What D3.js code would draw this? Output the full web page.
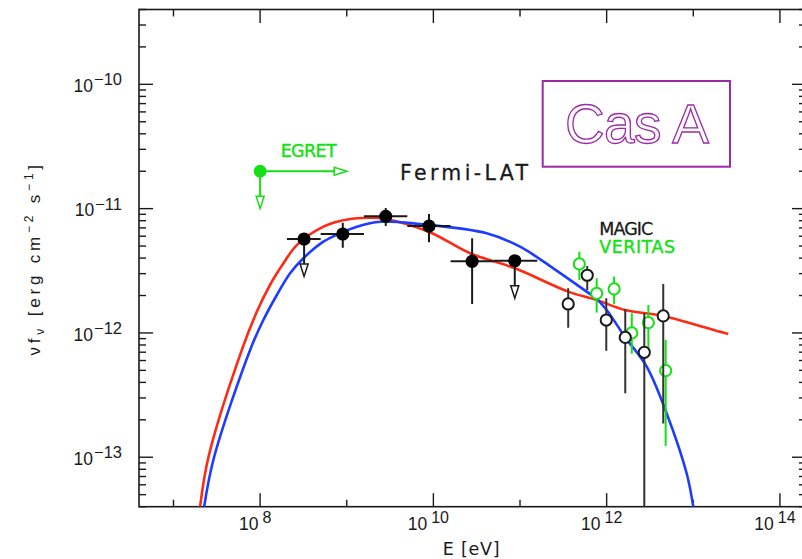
<!DOCTYPE html>
<html><head><meta charset="utf-8">
<script src="https://cdn.jsdelivr.net/npm/d3@7"></script>
<style>body{margin:0;background:#fff} svg{display:block}</style>
</head><body>
<svg id="c" width="802" height="559"></svg>
<script>
// ---------- data ----------
const xDomain = [4e6, 2e14];
const yDomain = [4e-14, 4e-10];
const xTickExps = [8, 10, 12, 14];
const yTickExps = [-13, -12, -11, -10];

// Fermi-LAT
const fermiE   = [3.22e8, 9.0e8, 2.82e9, 8.9e9, 2.8e10, 8.7e10];
const fermiF   = [5.7e-12, 6.25e-12, 8.67e-12, 7.24e-12, 3.77e-12, 3.81e-12];
const fermiElo = [2.04e8, 5.0e8, 1.58e9, 5.0e9, 1.58e10, 5.0e10];
const fermiEhi = [5.0e8, 1.58e9, 5.0e9, 1.58e10, 5.0e10, 1.58e11];
const fermiFlo = [null, 4.85e-12, 7.24e-12, 5.36e-12, 1.71e-12, null];
const fermiFhi = [null, 7.7e-12, 1.01e-11, 9.06e-12, 5.77e-12, null];
const fermiUL  = [2.85e-12, null, null, null, null, 1.9e-12];

// EGRET
const egretE = [1e8];
const egretF = [2e-11];
const egretArrowE = [1e9];
const egretArrowF = [1e-11];

// MAGIC
const magicE   = [3.6e11, 5.97e11, 9.9e11, 1.64e12, 2.72e12, 4.5e12];
const magicF   = [1.71e-12, 2.91e-12, 1.27e-12, 9.2e-13, 6.98e-13, 1.37e-12];
const magicFlo = [1.10e-12, 2.22e-12, 7.2e-13, 3.27e-13, 1e-15, 1.87e-13];
const magicFhi = [2.29e-12, 3.46e-12, 1.90e-12, 1.55e-12, 1.44e-12, 2.48e-12];

// VERITAS
const veritasE   = [4.84e11, 7.67e11, 1.22e12, 1.95e12, 3.03e12, 4.8e12];
const veritasF   = [3.59e-12, 2.08e-12, 2.26e-12, 1.0e-12, 1.21e-12, 4.97e-13];
const veritasFlo = [2.67e-12, 1.46e-12, 1.71e-12, 6.8e-13, 7.3e-13, 1.23e-13];
const veritasFhi = [4.5e-12, 2.75e-12, 2.84e-12, 1.44e-12, 1.68e-12, 8.8e-13];

// model curves
const redE = [2.03e7, 2.53e7, 6.15e7, 9.16e7, 1.30e8, 1.86e8, 2.65e8, 5.37e8, 8.38e8, 1.31e9, 1.86e9, 2.82e9, 8.83e9, 2.65e10, 8.75e10, 3.6e11, 7.67e11, 1.63e12, 4.5e12, 2.03e13, 2.53e13];
const redF = [4.0e-14, 1.0e-13, 7.3e-13, 1.48e-12, 2.43e-12, 3.63e-12, 5.09e-12, 7.16e-12, 7.96e-12, 8.36e-12, 8.45e-12, 8.26e-12, 6.52e-12, 4.38e-12, 3.31e-12, 2.15e-12, 1.84e-12, 1.53e-12, 1.37e-12, 1.02e-12, 9.8e-13];
const blueE = [2.26e7, 2.94e7, 7.67e7, 1.09e8, 1.56e8, 2.22e8, 3.16e8, 5.38e8, 8.38e8, 1.31e9, 2.43e9, 7.01e9, 4.12e10, 1.0e11, 2.42e11, 5.87e11, 7.53e11, 1.0e12, 1.64e12, 2.9e12, 4.92e12, 8.38e12, 1.0e13];
const blueF = [4.0e-14, 1.0e-13, 7.3e-13, 1.27e-12, 2.02e-12, 3.02e-12, 3.99e-12, 5.42e-12, 6.34e-12, 7.16e-12, 7.85e-12, 7.52e-12, 6.34e-12, 4.94e-12, 3.31e-12, 2.15e-12, 1.90e-12, 1.53e-12, 9.2e-13, 5.36e-13, 2.26e-13, 7.43e-14, 4.0e-14];

// ---------- drawing ----------
const GREEN = "#14e014", RED = "#ff2a14", BLUE = "#1e3cff", PURPLE = "#9c2aa8", INK = "#1a1a1a";
const svg = d3.select("#c");
const L = 139, R = 806, T = 9.5, B = 506.7;
const x = d3.scaleLog().domain(xDomain).range([L, R]);
const y = d3.scaleLog().domain(yDomain).range([B, T]);

svg.append("defs").append("clipPath").attr("id", "clip")
  .append("rect").attr("x", L).attr("y", T).attr("width", R - L).attr("height", B - T);

// frame
svg.append("rect").attr("x", L).attr("y", T).attr("width", R - L).attr("height", B - T)
  .attr("fill", "none").attr("stroke", INK).attr("stroke-width", 1.6);

const tk = svg.append("g").attr("stroke", INK).attr("stroke-width", 1.4);
for (let e = -14; e <= -10; e++) {
  for (let m = 1; m <= 9; m++) {
    const v = m * Math.pow(10, e);
    if (v < yDomain[0] * 0.999 || v > yDomain[1] * 1.001) continue;
    const len = m === 1 ? 14 : 7;
    const yy = y(v);
    tk.append("line").attr("x1", L).attr("x2", L + len).attr("y1", yy).attr("y2", yy);
    tk.append("line").attr("x1", R).attr("x2", R - len).attr("y1", yy).attr("y2", yy);
  }
}
for (let e = 7; e <= 14; e++) {
  const len = e % 2 === 0 ? 13.5 : 7;
  const xx = x(Math.pow(10, e));
  tk.append("line").attr("x1", xx).attr("x2", xx).attr("y1", B).attr("y2", B - len);
  tk.append("line").attr("x1", xx).attr("x2", xx).attr("y1", T).attr("y2", T + len);
}

// tick labels
const lab = svg.append("g").attr("font-family", "'Liberation Sans', Arial, sans-serif").attr("fill", INK);
yTickExps.forEach(e => {
  const t = lab.append("text").attr("x", 122).attr("y", y(Math.pow(10, e)) + 7.6)
    .attr("text-anchor", "end").attr("font-size", 17.5);
  t.append("tspan").text("10");
  t.append("tspan").attr("dx", 1).attr("dy", -6.7).attr("font-size", 16.5).text("\u2212" + Math.abs(e));
});
xTickExps.forEach(e => {
  const t = lab.append("text").attr("x", x(Math.pow(10, e)) - 5).attr("y", 530)
    .attr("text-anchor", "middle").attr("font-size", 17.5);
  t.append("tspan").text("10");
  t.append("tspan").attr("dx", 4).attr("dy", -6.7).attr("font-size", 16).text(String(e));
});

// axis titles
const tl = svg.append("g").attr("fill", INK);
tl.append("text").attr("x", 442.7).attr("y", 555).attr("font-family", "'DejaVu Sans', sans-serif")
  .attr("font-size", 17.5).attr("textLength", 57).attr("lengthAdjust", "spacing").text("E [eV]");

const yt = tl.append("text").attr("transform", "translate(40,258.3) rotate(-90)")
  .attr("text-anchor", "middle").attr("font-family", "'Liberation Sans', Arial, sans-serif")
  .attr("font-size", 17).attr("letter-spacing", 3.8);
yt.append("tspan").text("\u03bdf");
yt.append("tspan").attr("dy", 4).attr("font-size", 12).text("\u03bd");
yt.append("tspan").attr("dy", -4).text("  [erg  cm");
yt.append("tspan").attr("dy", -7.5).attr("font-size", 12).text("\u22122");
yt.append("tspan").attr("dy", 7.5).text("  s");
yt.append("tspan").attr("dy", -7.5).attr("font-size", 12).text("\u22121");
yt.append("tspan").attr("dy", 7.5).text("]");

// curves
const line = d3.line().x(d => x(d[0])).y(d => y(d[1])).curve(d3.curveCatmullRom.alpha(0.5));
const cg = svg.append("g").attr("clip-path", "url(#clip)").attr("fill", "none").attr("stroke-width", 2.6);
cg.append("path").attr("d", line(redE.map((e, i) => [e, redF[i]]))).attr("stroke", RED);
cg.append("path").attr("d", line(blueE.map((e, i) => [e, blueF[i]]))).attr("stroke", BLUE);

// arrow helper (tip at x2,y2)
function arrow(g, x1, y1, x2, y2, color) {
  const dx = x2 - x1, dy = y2 - y1, len = Math.hypot(dx, dy);
  const ux = dx / len, uy = dy / len, hl = 12.5, hw = 4;
  const bx = x2 - ux * hl, by = y2 - uy * hl;
  g.append("line").attr("x1", x1).attr("y1", y1).attr("x2", bx).attr("y2", by)
    .attr("stroke", color).attr("stroke-width", 2);
  g.append("path").attr("d", `M${x2},${y2}L${bx - uy * hw},${by + ux * hw}L${bx + uy * hw},${by - ux * hw}Z`)
    .attr("fill", "#fff").attr("stroke", color).attr("stroke-width", 1.5).attr("stroke-linejoin", "miter");
}

const pg = svg.append("g").attr("clip-path", "url(#clip)");

veritasE.forEach((e, i) => {
  pg.append("line").attr("x1", x(e)).attr("x2", x(e)).attr("y1", y(veritasFlo[i])).attr("y2", y(veritasFhi[i]))
    .attr("stroke", GREEN).attr("stroke-width", 2);
});
veritasE.forEach((e, i) => {
  pg.append("circle").attr("cx", x(e)).attr("cy", y(veritasF[i])).attr("r", 5.6)
    .attr("fill", "#fff").attr("stroke", GREEN).attr("stroke-width", 2);
});
magicE.forEach((e, i) => {
  pg.append("line").attr("x1", x(e)).attr("x2", x(e)).attr("y1", y(magicFlo[i])).attr("y2", y(magicFhi[i]))
    .attr("stroke", "#333").attr("stroke-width", 2);
});
magicE.forEach((e, i) => {
  pg.append("circle").attr("cx", x(e)).attr("cy", y(magicF[i])).attr("r", 5.6)
    .attr("fill", "#fff").attr("stroke", INK).attr("stroke-width", 2);
});

fermiE.forEach((e, i) => {
  const cx = x(e), cy = y(fermiF[i]);
  pg.append("line").attr("x1", x(fermiElo[i])).attr("x2", x(fermiEhi[i])).attr("y1", cy).attr("y2", cy)
    .attr("stroke", INK).attr("stroke-width", 2);
  if (fermiFlo[i] !== null) {
    pg.append("line").attr("x1", cx).attr("x2", cx).attr("y1", y(fermiFlo[i])).attr("y2", y(fermiFhi[i]))
      .attr("stroke", INK).attr("stroke-width", 2);
  }
  if (fermiUL[i] !== null) arrow(pg, cx, cy, cx, y(fermiUL[i]), INK);
});
fermiE.forEach((e, i) => {
  pg.append("circle").attr("cx", x(e)).attr("cy", y(fermiF[i])).attr("r", 6.6).attr("fill", "#000");
});

egretE.forEach((e, i) => {
  const cx = x(e), cy = y(egretF[i]);
  arrow(pg, cx, cy, x(egretArrowE[i]), cy, GREEN);
  arrow(pg, cx, cy, cx, y(egretArrowF[i]), GREEN);
  pg.append("circle").attr("cx", cx).attr("cy", cy).attr("r", 6.4).attr("fill", GREEN);
});

// labels
const lg = svg.append("g").attr("font-family", "'DejaVu Sans', sans-serif");
lg.append("text").attr("x", 400).attr("y", 180).attr("font-size", 20.5).attr("fill", INK)
  .attr("stroke", INK).attr("stroke-width", 0.3)
  .attr("textLength", 128).attr("lengthAdjust", "spacing").text("Fermi-LAT");
lg.append("text").attr("x", 280.7).attr("y", 156.7).attr("font-size", 17.5).attr("fill", GREEN)
  .attr("stroke", GREEN).attr("stroke-width", 0.4)
  .attr("textLength", 56).attr("lengthAdjust", "spacing").text("EGRET");
lg.append("text").attr("x", 599.3).attr("y", 235).attr("font-size", 17.5).attr("fill", INK)
  .attr("stroke", INK).attr("stroke-width", 0.3)
  .attr("textLength", 54).attr("lengthAdjust", "spacing").text("MAGIC");
lg.append("text").attr("x", 599.3).attr("y", 253.3).attr("font-size", 17.5).attr("fill", GREEN)
  .attr("stroke", GREEN).attr("stroke-width", 0.4)
  .attr("textLength", 75.7).attr("lengthAdjust", "spacing").text("VERITAS");

// Cas A box
svg.append("rect").attr("x", 542.7).attr("y", 81).attr("width", 187.3).attr("height", 85.7)
  .attr("fill", "none").attr("stroke", PURPLE).attr("stroke-width", 2);
svg.append("text").attr("x", 637).attr("y", 142.7).attr("text-anchor", "middle")
  .attr("font-family", "'Liberation Sans', Arial, sans-serif").attr("font-size", 55)
  .attr("fill", "#fff").attr("stroke", PURPLE).attr("stroke-width", 1.3)
  .attr("textLength", 144).attr("lengthAdjust", "spacing").text("Cas A");
</script>
</body></html>
